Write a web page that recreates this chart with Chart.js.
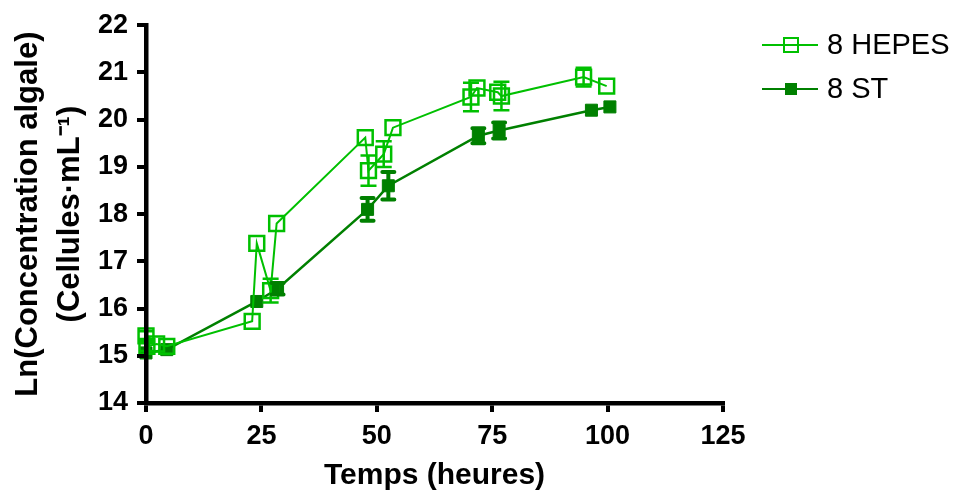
<!DOCTYPE html>
<html>
<head>
<meta charset="utf-8">
<script src="https://cdn.jsdelivr.net/npm/chart.js@4/dist/chart.umd.min.js"></script>
<style>
  html, body { margin: 0; padding: 0; background: #fff; }
  #wrap { width: 963px; height: 500px; position: relative; }
</style>
</head>
<body>
<div id="wrap"><canvas id="c" width="963" height="500"></canvas></div>
<script>
// ---- data ----
const seriesNames = ['8 HEPES', '8 ST'];
const hepesTime = [0, 0.2, 2.3, 4.5, 23, 24, 27, 28.3, 47.5, 48.2, 51.5, 53.5, 70.4, 71.7, 76.2, 77, 94.8, 99.8];
const hepesLn   = [15.42, 15.2, 15.25, 15.2, 15.73, 17.38, 16.38, 17.8, 19.62, 18.92, 19.27, 19.83, 20.48, 20.67, 20.58, 20.5, 20.9, 20.71];
const hepesErr  = [0.1, 0.1, 0, 0, 0, 0, 0.25, 0, 0, 0.32, 0.27, 0, 0.3, 0, 0, 0.3, 0.2, 0];
const stTime = [0, 4.5, 24, 28.5, 48, 52.5, 72, 76.5, 96.5, 100.5];
const stLn   = [15.06, 15.13, 16.15, 16.42, 18.1, 18.6, 19.66, 19.77, 20.2, 20.27];
const stErr  = [0, 0, 0, 0.12, 0.24, 0.29, 0.16, 0.17, 0, 0];
const xTicks = [0, 25, 50, 75, 100, 125];
const yTicks = [14, 15, 16, 17, 18, 19, 20, 21, 22];
const xTitle = 'Temps (heures)';
const yTitle = ['Ln(Concentration algale)', '(Cellules\u00B7mL\u207B\u00B9)'];

const HEPES_COLOR = '#00c000';
const ST_COLOR = '#008000';
const FONT = "'Liberation Sans', Arial, sans-serif";

const toPts = (xs, ys) => xs.map((x, i) => ({ x: x, y: ys[i] }));
const errs = [hepesErr, stErr];

const errorBarPlugin = {
  id: 'errorBars',
  afterDatasetsDraw(chart) {
    const ctx = chart.ctx;
    const ys = chart.scales.y;
    chart.data.datasets.forEach((ds, di) => {
      const meta = chart.getDatasetMeta(di);
      const e = errs[di];
      ctx.save();
      ctx.strokeStyle = ds.borderColor;
      ctx.lineWidth = di === 0 ? 2.5 : 4;
      ctx.lineCap = di === 0 ? 'butt' : 'round';
      const cap = di === 0 ? 8 : 6;
      meta.data.forEach((pt, j) => {
        if (!e[j]) return;
        const v = ds.data[j].y;
        const y1 = ys.getPixelForValue(v + e[j]);
        const y2 = ys.getPixelForValue(v - e[j]);
        ctx.beginPath();
        ctx.moveTo(pt.x, y1); ctx.lineTo(pt.x, y2);
        ctx.moveTo(pt.x - cap, y1); ctx.lineTo(pt.x + cap, y1);
        ctx.moveTo(pt.x - cap, y2); ctx.lineTo(pt.x + cap, y2);
        ctx.stroke();
      });
      ctx.restore();
    });
  }
};

const legendPlugin = {
  id: 'sideLegend',
  afterDraw(chart) {
    const ctx = chart.ctx;
    const rows = [
      { name: seriesNames[0], color: HEPES_COLOR, filled: false, y: 45 },
      { name: seriesNames[1], color: ST_COLOR, filled: true, y: 89 }
    ];
    ctx.save();
    rows.forEach(r => {
      ctx.strokeStyle = r.color;
      ctx.lineWidth = 2;
      ctx.beginPath();
      ctx.moveTo(762, r.y); ctx.lineTo(818, r.y);
      ctx.stroke();
      if (r.filled) {
        ctx.fillStyle = r.color;
        ctx.fillRect(785, r.y - 6, 12, 12);
      } else {
        ctx.lineWidth = 2;
        ctx.strokeRect(784, r.y - 7, 14, 14);
      }
      ctx.fillStyle = '#000';
      ctx.font = '29px ' + FONT;
      ctx.textBaseline = 'middle';
      ctx.textAlign = 'left';
      ctx.fillText(r.name, 827, r.y + 1);
    });
    ctx.restore();
  }
};

new Chart(document.getElementById('c'), {
  type: 'scatter',
  data: {
    datasets: [
      {
        label: seriesNames[0],
        data: toPts(hepesTime, hepesLn),
        showLine: true,
        borderColor: HEPES_COLOR,
        borderWidth: 2,
        pointStyle: 'rect',
        pointRadius: 10.5,
        pointHoverRadius: 10.5,
        pointBorderWidth: 2.5,
        pointBackgroundColor: 'rgba(0,0,0,0)',
        pointBorderColor: HEPES_COLOR,
        tension: 0,
        clip: false
      },
      {
        label: seriesNames[1],
        data: toPts(stTime, stLn),
        showLine: true,
        borderColor: ST_COLOR,
        borderWidth: 2.5,
        pointStyle: 'rect',
        pointRadius: 8.5,
        pointHoverRadius: 8.5,
        pointBorderWidth: 1,
        pointBackgroundColor: ST_COLOR,
        pointBorderColor: ST_COLOR,
        tension: 0,
        clip: false
      }
    ]
  },
  options: {
    responsive: false,
    animation: false,
    events: [],
    layout: { padding: { left: 0, right: 240, top: 19, bottom: 0 } },
    plugins: { legend: { display: false }, tooltip: { enabled: false } },
    scales: {
      x: {
        type: 'linear',
        min: 0, max: 125,
        afterBuildTicks: s => { s.ticks = xTicks.map(v => ({ value: v })); },
        afterFit: s => { s.height = 97; },
        border: { display: true, color: '#000', width: 4.5, z: 1 },
        grid: { drawOnChartArea: false, drawTicks: true, tickLength: 9, color: '#000', lineWidth: 4, z: 1 },
        ticks: { color: '#000', font: { family: FONT, size: 27, weight: 'bold' }, padding: 8, maxRotation: 0, autoSkip: false },
        title: { display: true, text: xTitle, color: '#000', font: { family: FONT, size: 30, weight: 'bold' }, padding: { top: 0, bottom: 6 } }
      },
      y: {
        type: 'linear',
        min: 14, max: 22,
        afterBuildTicks: s => { s.ticks = yTicks.map(v => ({ value: v })); },
        afterFit: s => { s.width = 146; },
        border: { display: true, color: '#000', width: 4.5, z: 1 },
        grid: { drawOnChartArea: false, drawTicks: true, tickLength: 9, color: '#000', lineWidth: 4, z: 1 },
        ticks: { color: '#000', font: { family: FONT, size: 27, weight: 'bold' }, padding: 9, autoSkip: false },
        title: { display: true, text: yTitle, color: '#000', font: { family: FONT, size: 31, weight: 'bold', lineHeight: 1.35 }, padding: { top: 8, bottom: 0 } }
      }
    }
  },
  plugins: [errorBarPlugin, legendPlugin]
});
</script>
</body>
</html>
